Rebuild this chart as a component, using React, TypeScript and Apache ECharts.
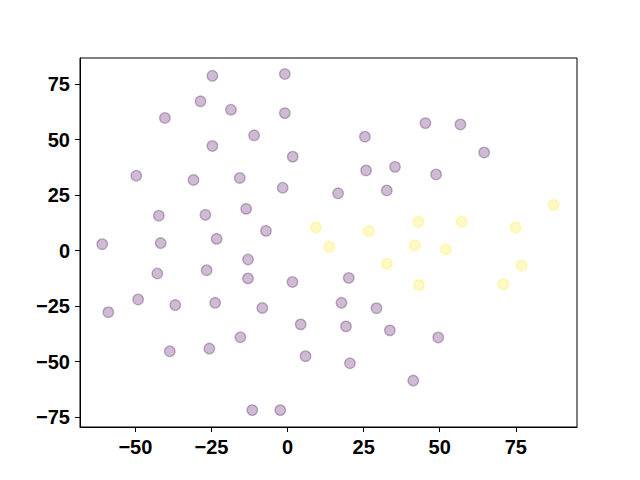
import React, { useEffect, useRef } from "react";
import * as echarts from "echarts";

const purplePoints: [number, number][] = [
  [-24.7, 78.7], [-0.9, 79.5], [-28.6, 67.2], [-18.6, 63.4], [-40.3, 59.7],
  [-0.9, 61.9], [-11.0, 51.9], [-24.7, 47.1], [1.7, 42.3], [-49.7, 33.7],
  [-30.9, 31.8], [-15.7, 32.7], [-1.6, 28.3], [-42.3, 15.7], [-27.0, 16.1],
  [-13.6, 18.8], [-7.1, 8.9], [-60.9, 2.9], [-41.7, 3.4], [-23.3, 5.3],
  [-13.0, -4.0], [-42.8, -10.3], [-26.6, -8.8], [-13.0, -12.5], [1.6, -14.1],
  [-49.1, -22.0], [-58.9, -27.7], [-36.9, -24.5], [-23.8, -23.5], [-8.3, -25.8],
  [4.3, -33.2], [-15.5, -39.0], [-38.7, -45.3], [-25.7, -44.1], [5.9, -47.5],
  [-11.6, -71.8], [-2.4, -71.8], [25.4, 51.3], [45.3, 57.4], [56.8, 56.8],
  [64.6, 44.2], [25.8, 36.1], [35.3, 37.7], [48.8, 34.3], [16.6, 25.8],
  [32.6, 27.1], [20.1, -12.3], [17.7, -23.5], [29.2, -25.9], [19.2, -34.1],
  [33.6, -35.9], [49.5, -39.1], [20.5, -50.7], [41.3, -58.5],
];

const yellowPoints: [number, number][] = [
  [9.3, 10.5], [13.7, 1.7], [26.7, 8.8], [43.0, 13.0], [57.2, 13.0],
  [87.4, 20.6], [74.9, 10.5], [41.8, 2.3], [52.0, 0.5], [32.6, -5.9],
  [43.2, -15.5], [76.9, -6.7], [70.9, -15.1],
];

const xTicks = [-50, -25, 0, 25, 50, 75];
const yTicks = [-75, -50, -25, 0, 25, 50, 75];

export default function App() {
  const ref = useRef<HTMLDivElement>(null);
  useEffect(() => {
    if (!ref.current) return;
    const chart = echarts.init(ref.current, null, { renderer: "svg" });
    const labelStyle = {
      fontFamily: "Liberation Sans",
      fontWeight: "bold" as const,
      fontSize: 20,
      color: "#000",
    };
    const fmt = (v: number) => (v < 0 ? "\u2212" + Math.abs(v) : String(v));
    chart.setOption({
      animation: false,
      backgroundColor: "#fff",
      grid: {
        left: 80,
        right: 63,
        top: 58,
        bottom: 53,
        show: true,
        borderColor: "#000",
        borderWidth: 1,
        backgroundColor: "transparent",
      },
      xAxis: {
        type: "value",
        min: -68.2,
        max: 95.1,
        splitLine: { show: false },
        axisLine: { show: true, onZero: false, lineStyle: { color: "#000", width: 1 } },
        axisTick: {
          show: true,
          inside: false,
          length: 5,
          lineStyle: { color: "#000", width: 1 },
          customValues: xTicks,
        },
        axisLabel: {
          ...labelStyle,
          margin: 10,
          customValues: xTicks,
          formatter: fmt,
        },
      },
      yAxis: {
        type: "value",
        min: -79.4,
        max: 86.7,
        splitLine: { show: false },
        axisLine: { show: true, onZero: false, lineStyle: { color: "#000", width: 1 } },
        axisTick: {
          show: true,
          inside: false,
          length: 5,
          lineStyle: { color: "#000", width: 1 },
          customValues: yTicks,
        },
        axisLabel: {
          ...labelStyle,
          margin: 10,
          customValues: yTicks,
          formatter: fmt,
        },
      },
      series: [
        {
          type: "scatter",
          data: purplePoints,
          symbolSize: 10.5,
          itemStyle: {
            color: "rgba(68,1,84,0.33)",
            borderColor: "rgba(68,1,84,0.38)",
            borderWidth: 1.3,
          },
        },
        {
          type: "scatter",
          data: yellowPoints,
          symbolSize: 10.5,
          itemStyle: {
            color: "rgba(253,231,37,0.33)",
            borderColor: "rgba(253,231,37,0.38)",
            borderWidth: 1.3,
          },
        },
      ],
    });
    return () => chart.dispose();
  }, []);
  return <div ref={ref} style={{ width: 640, height: 480, position: "absolute", left: 0, top: 0 }} />;
}
